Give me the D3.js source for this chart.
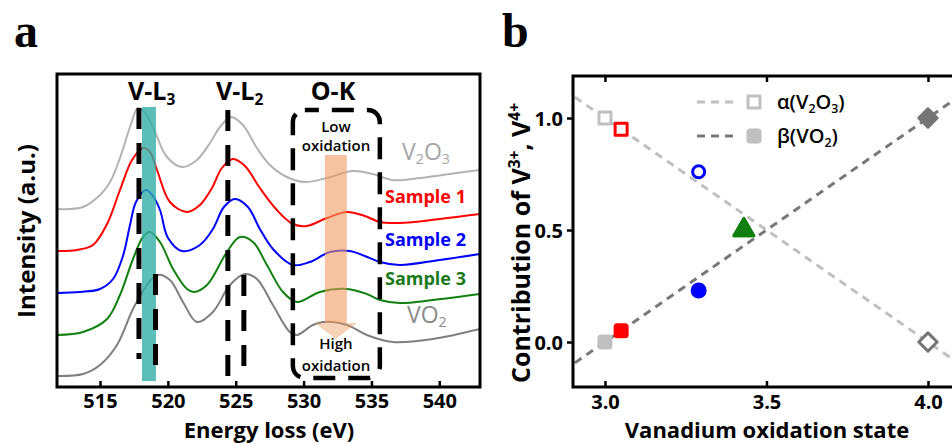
<!DOCTYPE html>
<html><head><meta charset="utf-8">
<script src="https://cdn.jsdelivr.net/npm/d3@7/dist/d3.min.js"></script>
<style>body{margin:0;background:#fff}svg{display:block}text{font-family:"Open Sans",sans-serif}</style>
</head><body><svg id="c" width="952" height="444"></svg>
<script>
// ---------- Panel a data: EELS spectra [energy (eV), intensity (a.u.)] ----------
const energyTicks = [515, 520, 525, 530, 535, 540];
const v2o3Spectrum = [[511.83,17.8],[513.75,18.0],[515.0,19.2],[515.74,20.5],[516.47,22.9],[517.21,26.0],[517.80,27.9],[518.39,27.3],[519.05,25.5],[519.93,23.0],[521.04,22.0],[522.14,22.7],[523.10,24.4],[523.84,26.0],[524.65,27.0],[525.53,26.2],[526.56,23.9],[527.52,22.2],[528.77,21.0],[530.10,20.5],[531.72,20.9],[533.63,21.6],[535.10,21.3],[536.58,20.7],[538.56,20.9],[540.77,21.3],[543.0,21.7]];
const sample1Spectrum = [[511.83,13.6],[513.31,13.7],[514.48,14.2],[515.52,16.3],[516.47,19.7],[517.36,22.7],[518.17,23.9],[518.68,23.5],[519.20,21.7],[520.15,18.5],[521.41,17.5],[522.36,18.2],[523.25,19.9],[523.98,21.9],[524.79,22.8],[525.68,22.1],[526.78,19.9],[528.03,17.7],[529.21,16.3],[530.24,16.1],[531.72,16.9],[533.19,17.5],[534.51,17.1],[535.62,16.5],[537.09,16.4],[540.04,16.8],[543.0,17.3]];
const sample2Spectrum = [[511.83,9.4],[513.53,9.5],[515.0,9.8],[515.96,10.8],[516.69,13.1],[517.21,16.2],[517.65,18.5],[518.39,19.7],[518.90,19.1],[519.42,17.7],[520.01,14.9],[521.04,13.6],[522.36,14.2],[523.32,15.8],[524.13,18.0],[524.94,18.8],[525.90,18.0],[526.78,15.8],[527.74,13.8],[529.21,12.2],[530.46,12.5],[531.94,13.5],[533.41,13.6],[534.51,13.1],[535.62,12.5],[537.09,12.2],[540.04,12.7],[543.0,13.3]];
const sample3Spectrum = [[511.83,5.2],[513.75,5.5],[515.52,6.8],[516.47,9.2],[517.43,12.8],[518.17,15.0],[518.68,15.5],[519.42,14.5],[520.38,11.8],[521.41,9.8],[521.92,9.5],[522.88,10.2],[524.35,13.5],[525.31,15.0],[526.27,14.5],[527.30,12.2],[528.48,9.5],[529.51,8.5],[531.20,9.5],[533.19,9.8],[534.66,9.3],[535.62,8.7],[537.09,8.4],[539.52,8.7],[543.0,9.3]];
const vo2Spectrum = [[511.83,1.1],[513.75,1.3],[515.0,2.2],[516.25,4.2],[517.43,7.8],[518.46,10.2],[519.20,11.2],[520.15,10.7],[521.11,8.5],[522.14,6.5],[523.32,7.5],[524.57,10.2],[525.68,11.3],[526.56,10.8],[527.74,8.2],[528.99,5.5],[529.51,5.2],[530.68,6.2],[531.42,6.5],[533.19,6.2],[534.66,5.2],[536.58,4.5],[539.52,4.8],[543.0,5.8]];
// edge markers: [energy, top intensity, bottom intensity]
const edgeLines = [[517.87,27.9,2.8],[519.09,11.3,1.5],[524.42,27.7,0.6],[525.60,11.2,1.3]];
const l3Band = [518.09, 519.12, 28.0, 0.6];
const okBox = [529.21, 535.62, 27.7, 0.9];
const arrowShaft = [531.57, 533.19, 23.2, 6.4];
const arrowHead = [530.83, 533.93, 6.4, 532.38, 4.8];

// ---------- Panel b data ----------
const sampleNames = ["V2O3", "Sample 1", "Sample 2", "Sample 3", "VO2"];
const oxidationState = [3.0, 3.05, 3.29, 3.43, 4.0];
const alphaContribution = [1.0, 0.95, 0.76, 0.50, 0.0];
const betaContribution = [0.0, 0.05, 0.23, 0.50, 1.0];
const alphaFit = [[2.8, 1.2], [4.3, -0.3]];
const betaFit = [[2.8, -0.2], [4.3, 1.3]];
const oxTicks = [3.0, 3.5, 4.0];
const contribTicks = [0.0, 0.5, 1.0];

const svg = d3.select("#c");
svg.append("rect").attr("width", 952).attr("height", 444).attr("fill", "#fff");

// ================= Panel a =================
const xA = d3.scaleLinear().domain([511.83, 543.0]).range([57, 480]);
const yA = d3.scaleLinear().domain([0, 31.3]).range([387, 74]);
svg.append("clipPath").attr("id", "clipA").append("rect")
  .attr("x", 57).attr("y", 74).attr("width", 423).attr("height", 313);
const gA = svg.append("g").attr("clip-path", "url(#clipA)");
const lineA = d3.line().x(d => xA(d[0])).y(d => yA(d[1])).curve(d3.curveCatmullRom.alpha(0.5));
const spectra = [
  [v2o3Spectrum, "#b3b3b3"], [sample1Spectrum, "#ff0000"], [sample2Spectrum, "#0000ff"],
  [sample3Spectrum, "#118011"], [vo2Spectrum, "#7f7f7f"]];
spectra.forEach(([d, c]) => gA.append("path").attr("d", lineA(d)).attr("fill", "none")
  .attr("stroke", c).attr("stroke-width", 2));

// teal L3 band
gA.append("rect").attr("x", xA(l3Band[0])).attr("width", xA(l3Band[1]) - xA(l3Band[0]))
  .attr("y", yA(l3Band[2])).attr("height", yA(l3Band[3]) - yA(l3Band[2]))
  .attr("fill", "#33aea7").attr("opacity", 0.8);

// orange arrow
gA.append("rect").attr("x", xA(arrowShaft[0])).attr("width", xA(arrowShaft[1]) - xA(arrowShaft[0]))
  .attr("y", yA(arrowShaft[2])).attr("height", yA(arrowShaft[3]) - yA(arrowShaft[2]))
  .attr("fill", "#ee9b61").attr("opacity", 0.6);
gA.append("path").attr("d", `M${xA(arrowHead[0])},${yA(arrowHead[2])}L${xA(arrowHead[1])},${yA(arrowHead[2])}L${xA(arrowHead[3])},${yA(arrowHead[4])}Z`)
  .attr("fill", "#ee9b61").attr("opacity", 0.45);

// dashed edge lines
edgeLines.forEach(e => gA.append("line").attr("x1", xA(e[0])).attr("x2", xA(e[0]))
  .attr("y1", yA(e[1])).attr("y2", yA(e[2])).attr("stroke", "#000").attr("stroke-width", 5)
  .attr("stroke-dasharray", "21,14"));

// O-K dashed rounded box
gA.append("rect").attr("x", xA(okBox[0])).attr("width", xA(okBox[1]) - xA(okBox[0]))
  .attr("y", yA(okBox[2])).attr("height", yA(okBox[3]) - yA(okBox[2]))
  .attr("rx", 12).attr("fill", "none").attr("stroke", "#000").attr("stroke-width", 4.5)
  .attr("stroke-dasharray", "22,13").attr("stroke-dashoffset", 8);

// axis
const axA = svg.append("g").attr("transform", "translate(0,387)")
  .call(d3.axisBottom(xA).tickValues(energyTicks).tickSizeInner(-6).tickSizeOuter(0).tickFormat(d3.format("d")));
axA.select(".domain").remove();
axA.selectAll(".tick line").attr("stroke", "#000").attr("stroke-width", 2.5);
axA.selectAll(".tick text").attr("y", 21).attr("dy", 0).attr("font-size", 20).attr("font-weight", 700)
  .attr("fill", "#000").style("font-family", '"Open Sans",sans-serif');
svg.append("rect").attr("x", 57).attr("y", 74).attr("width", 423).attr("height", 313)
  .attr("fill", "none").attr("stroke", "#000").attr("stroke-width", 3);

// labels panel a
function subText(g, x, y, parts, attrs) {
  const t = g.append("text").attr("x", x).attr("y", y);
  Object.entries(attrs).forEach(([k, v]) => t.attr(k, v));
  parts.forEach(p => {
    const s = t.append("tspan").text(p[0]);
    if (p[1] === "sub") s.attr("font-size", "0.62em").attr("dy", "0.3em");
    else if (p[1] === "sup") s.attr("font-size", "0.62em").attr("dy", "-0.62em");
    else if (p[1] === "back") s.attr("dy", "-0.186em");
    else if (p[1] === "down") s.attr("dy", "0.385em");
  });
  return t;
}
subText(svg, 128, 100, [["V-L"], ["3", "sub"]], {"font-size": 25, "font-weight": 700});
subText(svg, 216, 100, [["V-L"], ["2", "sub"]], {"font-size": 25, "font-weight": 700});
svg.append("text").attr("x", 333).attr("y", 100).attr("text-anchor", "middle")
  .attr("font-size", 25).attr("font-weight", 700).text("O-K");
[["Low", 132], ["oxidation", 151], ["High", 349], ["oxidation", 371]].forEach(([t, y]) =>
  svg.append("text").attr("x", 336).attr("y", y).attr("text-anchor", "middle")
    .attr("font-size", 15).attr("font-weight", 600).text(t));
subText(svg, 402, 160, [["V"], ["2", "sub"], ["O", "back"], ["3", "sub"]], {"font-size": 23, "fill": "#a6a6a6"});
svg.append("text").attr("x", 385).attr("y", 203).attr("font-size", 18).attr("font-weight", 700).attr("fill", "#ff0000").text("Sample 1");
svg.append("text").attr("x", 385).attr("y", 246).attr("font-size", 18).attr("font-weight", 700).attr("fill", "#0000ff").text("Sample 2");
svg.append("text").attr("x", 385).attr("y", 285).attr("font-size", 18).attr("font-weight", 700).attr("fill", "#1a7a1a").text("Sample 3");
subText(svg, 407, 323, [["VO"], ["2", "sub"]], {"font-size": 23, "fill": "#8a8a8a"});
svg.append("text").attr("transform", "translate(35,231) rotate(-90)").attr("text-anchor", "middle")
  .attr("font-size", 24).attr("font-weight", 700).text("Intensity (a.u.)");
svg.append("text").attr("x", 269).attr("y", 438).attr("text-anchor", "middle")
  .attr("font-size", 22).attr("font-weight", 700).text("Energy loss (eV)");
svg.append("text").attr("x", 14).attr("y", 47).attr("font-size", 48).attr("font-weight", 700)
  .style("font-family", '"Liberation Serif","Times New Roman",serif').text("a");
svg.append("text").attr("x", 502).attr("y", 47).attr("font-size", 48).attr("font-weight", 700)
  .style("font-family", '"Liberation Serif","Times New Roman",serif').text("b");

// ================= Panel b =================
const xB = d3.scaleLinear().domain([2.901, 4.223]).range([573, 1000]);
const yB = d3.scaleLinear().domain([-0.2009, 1.1875]).range([387, 76]);
svg.append("clipPath").attr("id", "clipB").append("rect")
  .attr("x", 573).attr("y", 76).attr("width", 427).attr("height", 311);
const gB = svg.append("g").attr("clip-path", "url(#clipB)");
const lineB = d3.line().x(d => xB(d[0])).y(d => yB(d[1]));
gB.append("path").attr("d", lineB(alphaFit)).attr("stroke", "#c0c0c0").attr("stroke-width", 3)
  .attr("stroke-dasharray", "8,6").attr("fill", "none");
gB.append("path").attr("d", lineB(betaFit)).attr("stroke", "#787878").attr("stroke-width", 3)
  .attr("stroke-dasharray", "8,6").attr("fill", "none");

const markerStyle = [
  {shape: "square", color: "#c0c0c0"},
  {shape: "square", color: "#ff0000"},
  {shape: "circle", color: "#0000ff"},
  {shape: "triangle", color: "#118011"},
  {shape: "diamond", color: "#747474"}];
function marker(g, cx, cy, shape, color, filled) {
  let el;
  if (shape === "square") el = g.append("rect").attr("x", cx - 6).attr("y", cy - 6).attr("width", 12).attr("height", 12).attr("rx", filled ? 2 : 0);
  else if (shape === "circle") el = g.append("circle").attr("cx", cx).attr("cy", cy).attr("r", filled ? 6.5 : 6);
  else if (shape === "triangle") el = g.append("path").attr("d", d3.symbol(d3.symbolTriangle, 170)()).attr("transform", `translate(${cx},${cy})`);
  else el = g.append("rect").attr("x", -6.5).attr("y", -6.5).attr("width", 13).attr("height", 13).attr("transform", `translate(${cx},${cy}) rotate(45)`);
  el.attr("fill", filled ? color : "#fff").attr("stroke", color).attr("stroke-width", 3).attr("stroke-linejoin", "round");
}
oxidationState.forEach((x, i) => {
  const m = markerStyle[i];
  marker(gB, xB(x), yB(alphaContribution[i]), m.shape, m.color, m.shape === "triangle");
  marker(gB, xB(x), yB(betaContribution[i]), m.shape, m.color, true);
});

// legend
svg.append("line").attr("x1", 697).attr("x2", 738).attr("y1", 102).attr("y2", 102)
  .attr("stroke", "#c0c0c0").attr("stroke-width", 3).attr("stroke-dasharray", "8,6");
svg.append("line").attr("x1", 697).attr("x2", 738).attr("y1", 136).attr("y2", 136)
  .attr("stroke", "#787878").attr("stroke-width", 3).attr("stroke-dasharray", "8,6");
marker(svg, 754, 102, "square", "#c0c0c0", false);
marker(svg, 754, 136, "square", "#c0c0c0", true);
subText(svg, 777, 109, [["α(V"], ["2", "sub"], ["O", "back"], ["3", "sub"], [")", "back"]], {"font-size": 20, "font-weight": 600});
subText(svg, 777, 143, [["β(VO"], ["2", "sub"], [")", "back"]], {"font-size": 20, "font-weight": 600});

// axes b
function styleAxis(ax) {
  ax.select(".domain").remove();
  ax.selectAll(".tick line").attr("stroke", "#000").attr("stroke-width", 2.5);
  ax.selectAll(".tick text").attr("font-size", 20).attr("font-weight", 700).attr("fill", "#000")
    .style("font-family", '"Open Sans",sans-serif');
}
const axB = svg.append("g").attr("transform", "translate(0,387)")
  .call(d3.axisBottom(xB).tickValues(oxTicks).tickSizeInner(-6).tickSizeOuter(0).tickFormat(d3.format(".1f")));
styleAxis(axB); axB.selectAll(".tick text").attr("y", 22).attr("dy", 0);
const axBt = svg.append("g").attr("transform", "translate(0,76)")
  .call(d3.axisTop(xB).tickValues(oxTicks).tickSizeInner(-6).tickSizeOuter(0).tickFormat(""));
styleAxis(axBt);
const ayB = svg.append("g").attr("transform", "translate(573,0)")
  .call(d3.axisLeft(yB).tickValues(contribTicks).tickSizeInner(6).tickSizeOuter(0).tickPadding(4).tickFormat(d3.format(".1f")));
styleAxis(ayB); ayB.selectAll(".tick text").attr("dy", "0.36em");
svg.append("rect").attr("x", 573).attr("y", 76).attr("width", 427).attr("height", 311)
  .attr("fill", "none").attr("stroke", "#000").attr("stroke-width", 3);
svg.append("text").attr("x", 767).attr("y", 438).attr("text-anchor", "middle")
  .attr("font-size", 22).attr("font-weight", 700).text("Vanadium oxidation state");
subText(svg, 0, 0, [["Contribution of V"], ["3+", "sup"], [", V", "down"], ["4+", "sup"]],
  {"font-size": 25, "font-weight": 700, "text-anchor": "middle", "transform": "translate(530,243) rotate(-90)"});
</script></body></html>
